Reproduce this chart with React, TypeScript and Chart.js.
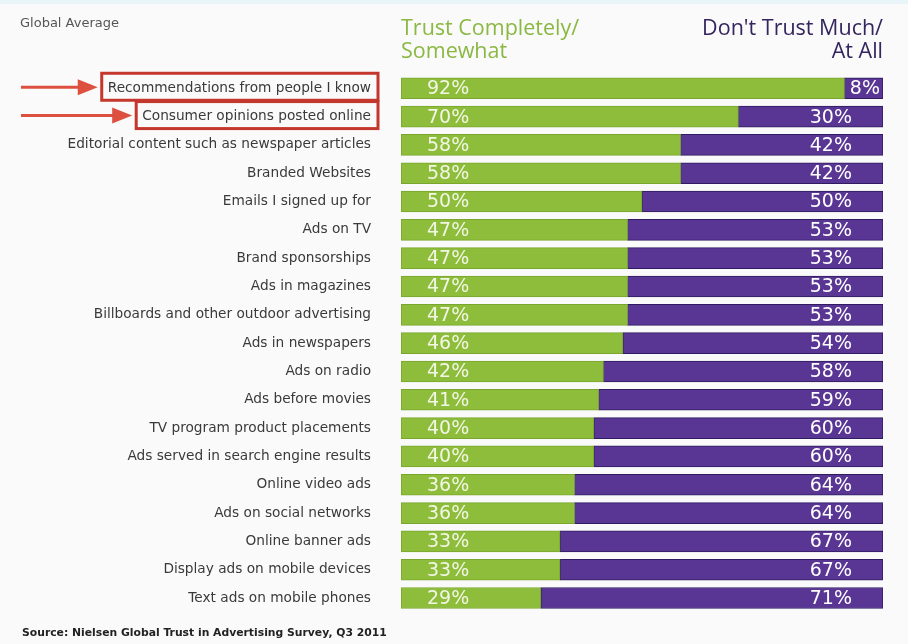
import React, { useEffect, useRef } from "react";
import { Chart, registerables } from "chart.js";
Chart.register(...registerables);

const categories = [
  "Recommendations from people I know",
  "Consumer opinions posted online",
  "Editorial content such as newspaper articles",
  "Branded Websites",
  "Emails I signed up for",
  "Ads on TV",
  "Brand sponsorships",
  "Ads in magazines",
  "Billboards and other outdoor advertising",
  "Ads in newspapers",
  "Ads on radio",
  "Ads before movies",
  "TV program product placements",
  "Ads served in search engine results",
  "Online video ads",
  "Ads on social networks",
  "Online banner ads",
  "Display ads on mobile devices",
  "Text ads on mobile phones",
];
const trustValues = [92, 70, 58, 58, 50, 47, 47, 47, 47, 46, 42, 41, 40, 40, 36, 36, 33, 33, 29];
const distrustValues = [8, 30, 42, 42, 50, 53, 53, 53, 53, 54, 58, 59, 60, 60, 64, 64, 67, 67, 71];
const highlightedRows = [0, 1];
const trustHeader = ["Trust Completely/", "Somewhat"];
const distrustHeader = ["Don't Trust Much/", "At All"];
const subtitle = "Global Average";
const sourceText = "Source: Nielsen Global Trust in Advertising Survey, Q3 2011";

const GREEN = "#8dbd3a";
const GREEN_BORDER = "#7aa62e";
const PURPLE = "#5a3694";
const PURPLE_BORDER = "#2e1b60";
const HEADER_GREEN = "#8ab842";
const HEADER_PURPLE = "#35255f";
const RED_BOX = "#c4372c";
const RED_ARROW = "#dd5040";
const HEAD_FONT = "'Open Sans', 'Noto Sans', sans-serif";
const BODY_FONT = "'DejaVu Sans', 'Open Sans', sans-serif";
const TICK_PAD = 30;
const LABEL_SIZE = 13.7;
const PLOT_TOP = 74.1;
const PLOT_BOTTOM = 612.2;

export default function App() {
  const ref = useRef<HTMLCanvasElement>(null);
  useEffect(() => {
    if (!ref.current) return;
    const decor = {
      id: "decor",
      afterLayout(chart: any) {
        // pin the category axis to the vertical span used by the reference
        const ys = chart.scales.y;
        const ca = chart.chartArea;
        ys.top = PLOT_TOP;
        ys.bottom = PLOT_BOTTOM;
        ys.height = PLOT_BOTTOM - PLOT_TOP;
        ca.top = PLOT_TOP;
        ca.bottom = PLOT_BOTTOM;
        ca.height = PLOT_BOTTOM - PLOT_TOP;
        ys.configure();
      },
      beforeDraw(chart: any) {
        const ctx = chart.ctx;
        ctx.save();
        ctx.fillStyle = "#fafafa";
        ctx.fillRect(0, 0, chart.width, chart.height);
        ctx.fillStyle = "#eaf5f9";
        ctx.fillRect(0, 0, chart.width, 4);
        ctx.restore();
      },
      afterDatasetsDraw(chart: any) {
        const ctx = chart.ctx;
        const m0 = chart.getDatasetMeta(0).data;
        const m1 = chart.getDatasetMeta(1).data;
        ctx.save();
        ctx.font = `19px ${BODY_FONT}`;
        ctx.textBaseline = "middle";
        for (let i = 0; i < categories.length; i++) {
          const g = m0[i];
          const p = m1[i];
          ctx.fillStyle = "#f2f6e4";
          ctx.textAlign = "left";
          ctx.fillText(trustValues[i] + "%", g.base + 26, g.y + 1);
          const t = distrustValues[i] + "%";
          const w = ctx.measureText(t).width;
          let x = p.x - 31;
          if (x - w < p.base + 4) x = p.x - 3;
          ctx.fillStyle = "#ffffff";
          ctx.textAlign = "right";
          ctx.fillText(t, x, p.y + 1);
        }
        ctx.restore();
      },
      afterDraw(chart: any) {
        const ctx = chart.ctx;
        const area = chart.chartArea;
        const yScale = chart.scales.y;
        ctx.save();
        ctx.fillStyle = "#555555";
        ctx.font = `13px ${BODY_FONT}`;
        ctx.textAlign = "left";
        ctx.textBaseline = "alphabetic";
        ctx.fillText(subtitle, 20, 27);
        ctx.font = `21.5px ${HEAD_FONT}`;
        ctx.fillStyle = HEADER_GREEN;
        ctx.fillText(trustHeader[0], area.left, 35);
        ctx.fillText(trustHeader[1], area.left, 58);
        ctx.fillStyle = HEADER_PURPLE;
        ctx.textAlign = "right";
        ctx.fillText(distrustHeader[0], area.right, 35);
        ctx.fillText(distrustHeader[1], area.right, 58);
        ctx.font = `${LABEL_SIZE}px ${BODY_FONT}`;
        for (const idx of highlightedRows) {
          const cy = yScale.getPixelForValue(idx);
          const textRight = yScale.right - TICK_PAD;
          const w = ctx.measureText(categories[idx]).width;
          const bx = textRight - w - 6;
          const bw = w + 13;
          ctx.strokeStyle = RED_BOX;
          ctx.lineWidth = 3;
          ctx.strokeRect(bx, cy - 15, bw, 27);
          const ay = cy - 1;
          const tip = bx - 4;
          ctx.strokeStyle = RED_ARROW;
          ctx.fillStyle = RED_ARROW;
          ctx.lineWidth = 3;
          ctx.beginPath();
          ctx.moveTo(21, ay);
          ctx.lineTo(tip - 16, ay);
          ctx.stroke();
          ctx.beginPath();
          ctx.moveTo(tip, ay);
          ctx.lineTo(tip - 20, ay - 8);
          ctx.lineTo(tip - 20, ay + 8);
          ctx.closePath();
          ctx.fill();
        }
        ctx.fillStyle = "#222222";
        ctx.font = `bold 10.8px ${BODY_FONT}`;
        ctx.textAlign = "left";
        ctx.fillText(sourceText, 22, 636);
        ctx.restore();
      },
    };

    const chart = new Chart(ref.current, {
      type: "bar",
      data: {
        labels: categories,
        datasets: [
          {
            label: "Trust Completely/Somewhat",
            data: trustValues,
            backgroundColor: GREEN,
            borderColor: GREEN_BORDER,
            borderWidth: 1,
            borderSkipped: false,
            barThickness: 21,
          },
          {
            label: "Don't Trust Much/At All",
            data: distrustValues,
            backgroundColor: PURPLE,
            borderColor: PURPLE_BORDER,
            borderWidth: 1,
            borderSkipped: false,
            barThickness: 21,
          },
        ],
      },
      options: {
        indexAxis: "y",
        responsive: false,
        animation: false,
        layout: { autoPadding: false, padding: { left: 0, right: 25, top: 74, bottom: 32 } },
        plugins: { legend: { display: false }, tooltip: { enabled: false } },
        scales: {
          x: { stacked: true, min: 0, max: 100, display: false },
          y: {
            stacked: true,
            grid: { display: false, drawTicks: false },
            border: { display: false },
            ticks: { color: "#3a3a3a", font: { family: BODY_FONT, size: LABEL_SIZE }, padding: TICK_PAD },
            afterFit: (s: any) => {
              s.width = 401;
            },
          },
        },
      } as any,
      plugins: [decor],
    });
    return () => chart.destroy();
  }, []);
  return (
    <div style={{ position: "fixed", left: 0, top: 0, width: 908, height: 644 }}>
      <canvas ref={ref} width={908} height={644} style={{ display: "block", width: 908, height: 644 }} />
    </div>
  );
}
